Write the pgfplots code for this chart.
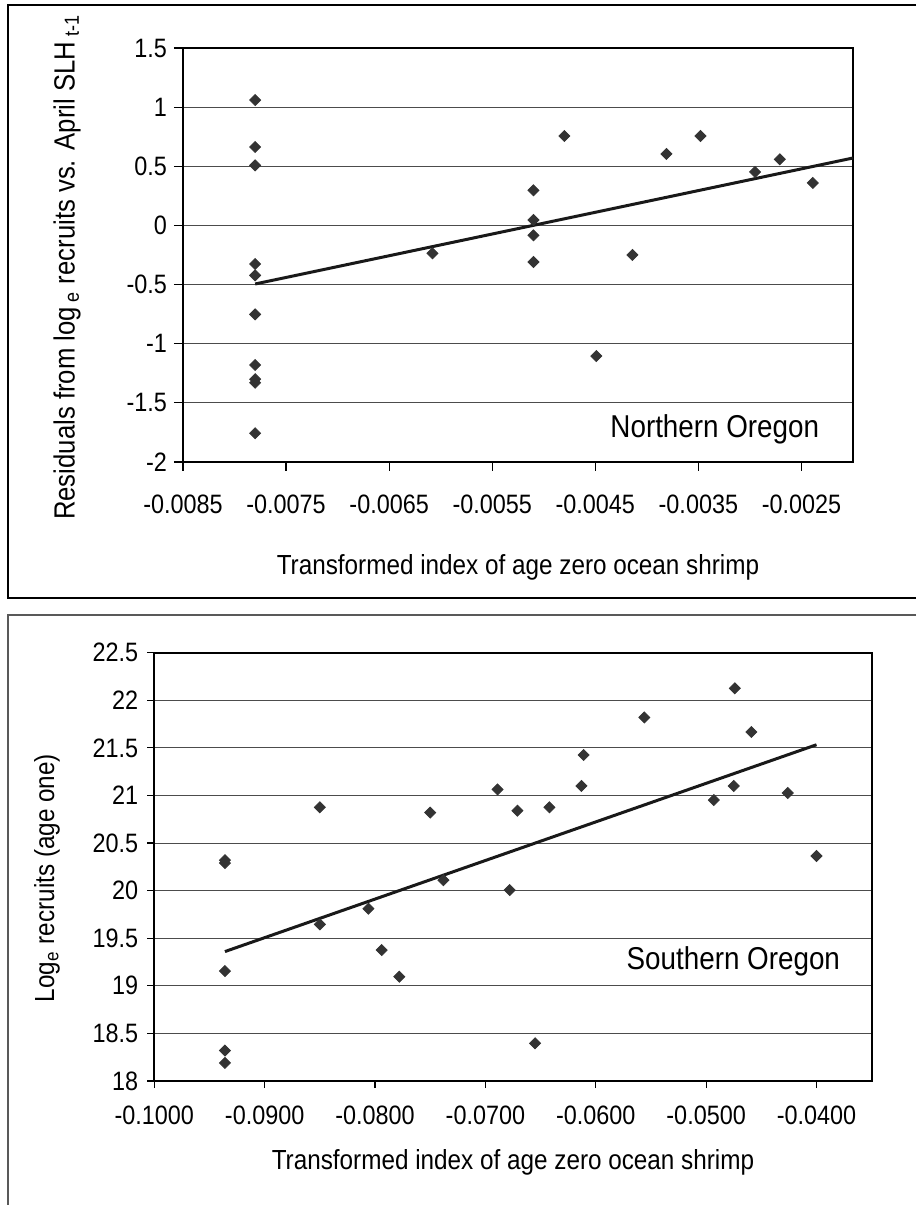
\documentclass[border=0pt]{standalone}
\usepackage{fontspec}
\setmainfont{Liberation Sans}[FakeStretch=0.88]
\usepackage{pgfplots}
\pgfplotsset{compat=1.18}

\definecolor{markgray}{HTML}{333333}

\pgfplotsset{
  shrimp/.style={
    scale only axis,
    anchor=south west,
    axis line style={black, line width=1pt},
    tick align=outside,
    xtick pos=lower, ytick pos=left,
    major tick length=4.5pt,
    tick style={black, line width=0.6pt},
    ymajorgrids,
    major grid style={black!70, line width=0.5pt},
    scaled x ticks=false, scaled y ticks=false,
    /pgf/number format/assume math mode=true,
    every tick label/.append style={font=\fontsize{13.3}{15}\selectfont},
    every axis label/.append style={font=\fontsize{13.8}{16}\selectfont},
  },
  pts/.style={only marks, mark=square*, mark size=1.95pt,
    mark options={rotate=45, fill=markgray, draw=markgray}},
  fit/.style={no marks, black!90, line width=1.5pt},
}

\begin{document}
\begin{tikzpicture}
\useasboundingbox (0,0) rectangle (458pt,602.5pt);

% panel frames
\draw[black, line width=1pt] (458pt,600pt) -- (4pt,600pt) -- (4pt,303.5pt) -- (458pt,303.5pt);
\draw[black!65, line width=0.75pt] (458pt,295pt) -- (4pt,295pt) -- (4pt,0pt);

% Northern Oregon
\begin{axis}[shrimp,
  at={(91.5pt,371.5pt)}, width=335pt, height=207pt,
  xmin=-0.0085, xmax=-0.002, ymin=-2, ymax=1.5,
  xtick={-0.0085,-0.0075,-0.0065,-0.0055,-0.0045,-0.0035,-0.0025},
  ytick={-2,-1.5,-1,-0.5,0,0.5,1,1.5},
  xticklabel style={yshift=-8.5pt, /pgf/number format/.cd, fixed, fixed zerofill, precision=4},
  xlabel={Transformed index of age zero ocean shrimp},
  ylabel={Residuals from log\,\textsubscript{e} recruits vs. April SLH\,\textsubscript{t-1}},
  xlabel style={at={(axis description cs:0.5,-0.254)}, anchor=center},
  ylabel style={at={(axis description cs:-0.173,0.47)}, anchor=center},
  every axis y label/.append style={font=\fontsize{14.6}{17}\selectfont},
]
\addplot[pts] coordinates {
  (-0.0078,1.06) (-0.0078,0.663) (-0.0078,0.508) (-0.0078,-0.326)
  (-0.0078,-0.422) (-0.0078,-0.752) (-0.0078,-1.18) (-0.0078,-1.30)
  (-0.0078,-1.33) (-0.0078,-1.757) (-0.00608,-0.236)
  (-0.0051,0.297) (-0.0051,0.046) (-0.0051,-0.084) (-0.0051,-0.309)
  (-0.0048,0.756) (-0.00449,-1.104) (-0.00414,-0.25) (-0.00381,0.604)
  (-0.00348,0.756) (-0.00295,0.452) (-0.00271,0.559) (-0.00239,0.359)
};
\addplot[fit] coordinates {(-0.0078,-0.495) (-0.002,0.57)};
\node[anchor=east, font=\fontsize{15.8}{18}\selectfont] at (axis cs:-0.00226,-1.72) {Northern Oregon};
\end{axis}

% Southern Oregon
\begin{axis}[shrimp,
  at={(77.15pt,62pt)}, width=358.7pt, height=214.15pt,
  xmin=-0.1, xmax=-0.035, ymin=18, ymax=22.5,
  xtick={-0.1,-0.09,-0.08,-0.07,-0.06,-0.05,-0.04},
  ytick={18,18.5,19,19.5,20,20.5,21,21.5,22,22.5},
  xticklabel style={yshift=-5.5pt, /pgf/number format/.cd, fixed, fixed zerofill, precision=4},
  yticklabel style={xshift=-1pt},
  major tick length=3.5pt,
  xlabel={Transformed index of age zero ocean shrimp},
  ylabel={Log\textsubscript{e} recruits (age one)},
  xlabel style={at={(axis description cs:0.5,-0.189)}, anchor=center},
  ylabel style={at={(axis description cs:-0.1496,0.474)}, anchor=center},
]
\addplot[pts] coordinates {
  (-0.0936,20.32) (-0.0936,20.29) (-0.0936,19.155) (-0.0936,18.32)
  (-0.0936,18.19) (-0.0850,20.876) (-0.0850,19.646) (-0.0806,19.81)
  (-0.0794,19.376) (-0.0778,19.096) (-0.0750,20.82) (-0.0738,20.11)
  (-0.0689,21.064) (-0.0678,20.006) (-0.0671,20.84) (-0.0655,18.396)
  (-0.0642,20.876) (-0.0613,21.1) (-0.0611,21.425) (-0.0556,21.82)
  (-0.0493,20.952) (-0.0475,21.1) (-0.0474,22.126) (-0.0459,21.667)
  (-0.0426,21.026) (-0.0400,20.364)
};
\addplot[fit] coordinates {(-0.0936,19.36) (-0.04,21.533)};
\node[anchor=east, font=\fontsize{15.8}{18}\selectfont] at (axis cs:-0.03723,19.253) {Southern Oregon};
\end{axis}
\end{tikzpicture}
\end{document}
